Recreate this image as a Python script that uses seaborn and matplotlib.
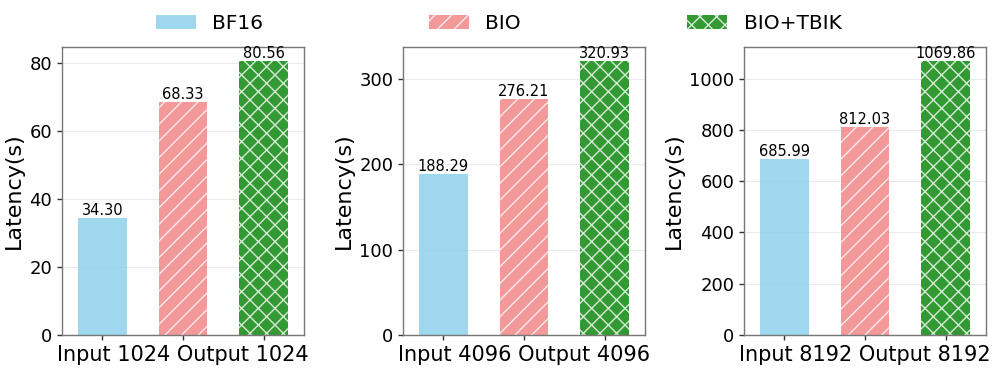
import pandas as pd
import numpy as np
import matplotlib
matplotlib.use("Agg")
import matplotlib.pyplot as plt
import seaborn as sns
from matplotlib.patches import Patch
from matplotlib.ticker import MaxNLocator

# Data
methods = ["BF16", "BIO", "BIO+TBIK"]
settings = ["Input 1024 Output 1024", "Input 4096 Output 4096", "Input 8192 Output 8192"]
latency_1024 = [34.30, 68.33, 80.56]
latency_4096 = [188.29, 276.21, 320.93]
latency_8192 = [685.99, 812.03, 1069.86]

colors = ["skyblue", "lightcoral", "green"]
hatches = ["", "//", "xx"]

sns.set_style("white")
plt.rcParams["font.family"] = ["DejaVu Sans"]
plt.rcParams["text.color"] = "black"
plt.rcParams["axes.labelcolor"] = "black"
plt.rcParams["xtick.color"] = "black"
plt.rcParams["ytick.color"] = "black"
plt.rcParams["hatch.color"] = "white"
plt.rcParams["hatch.linewidth"] = 1.0

fig, axes = plt.subplots(1, 3, figsize=(9.97, 3.76), dpi=100)

all_latency = [latency_1024, latency_4096, latency_8192]

for ax, setting, vals in zip(axes, settings, all_latency):
    df = pd.DataFrame({"Method": methods, "Latency": vals})
    sns.barplot(data=df, x="Method", y="Latency", hue="Method", palette=colors,
                width=0.6, alpha=0.8, legend=False, ax=ax, saturation=1)
    for bar, h in zip(ax.patches, hatches):
        bar.set_hatch(h)
        bar.set_edgecolor("white")
        bar.set_linewidth(0)
    for bar, v in zip(ax.patches, vals):
        ax.text(bar.get_x() + bar.get_width() / 2, bar.get_height(), f"{v:.2f}",
                ha="center", va="bottom", fontsize=10.5)
    ax.set_ylim(0, max(vals) * 1.05)
    ax.yaxis.set_major_locator(MaxNLocator(nbins=6, steps=[1, 2, 2.5, 5, 10]))
    ax.set_xticks([0, 1, 2])
    ax.set_xticklabels(["", setting, ""], fontsize=15)
    ax.tick_params(axis="y", labelsize=13)
    ax.tick_params(axis="both", length=3.5, width=1, color="#333333", bottom=True, left=True)
    ax.set_xlabel("")
    ax.set_ylabel("Latency(s)", fontsize=16)
    ax.grid(axis="y", color="#dddddd", alpha=0.6)
    ax.set_axisbelow(True)
    for sp in ax.spines.values():
        sp.set_color("#777777")
        sp.set_linewidth(1)

handles = [Patch(facecolor=c, alpha=0.8, hatch=h, edgecolor="white", linewidth=0, label=m)
           for c, h, m in zip(colors, hatches, methods)]
fig.legend(handles=handles, loc="center", bbox_to_anchor=(0.5, 1 - 23.5 / 376), ncol=3,
           frameon=False, fontsize=14.5, handlelength=2, columnspacing=8.25)

fig.subplots_adjust(left=62 / 997, right=986 / 997, top=1 - 47 / 376,
                    bottom=1 - 335 / 376, wspace=99 / 242)
plt.savefig("out.png", dpi=100)
